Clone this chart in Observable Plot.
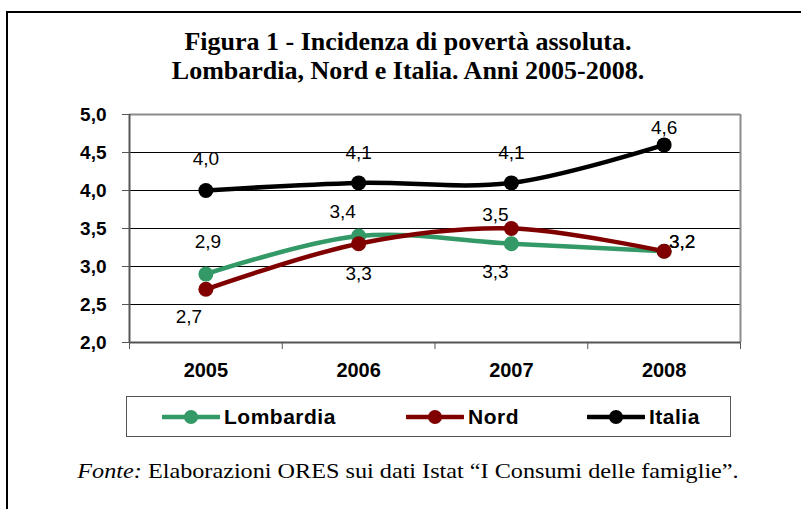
<!DOCTYPE html>
<html>
<head>
<meta charset="utf-8">
<script src="https://cdn.jsdelivr.net/npm/d3@7"></script>
<script src="https://cdn.jsdelivr.net/npm/@observablehq/plot@0.6"></script>
<style>
  html, body { margin: 0; padding: 0; background: #fff; }
  body { width: 801px; height: 509px; overflow: hidden; position: relative; }
  #frame { position: absolute; left: 6px; top: 11px; width: 900px; height: 600px; border: 2px solid #000; box-sizing: border-box; }
  #title { position: absolute; left: 0; top: 27px; width: 816px; text-align: center;
           font-family: "Liberation Serif", "Times New Roman", serif; font-weight: bold; font-size: 26px; line-height: 29px; color: #000; }
  #chart { position: absolute; left: 0; top: 100px; }
  #legend { position: absolute; left: 126px; top: 396px; width: 605px; height: 41px; border: 1px solid #555; box-sizing: border-box; }
  .item { position: absolute; top: 0; height: 39px; display: flex; align-items: center;
          font-family: "Liberation Sans", Arial, sans-serif; font-weight: bold; font-size: 21px; letter-spacing: 0.5px; color: #000; }
  .item svg { margin-right: 4px; }
  #caption { position: absolute; left: 0; top: 458px; width: 816px; text-align: center;
             font-family: "Liberation Serif", "Times New Roman", serif; font-size: 22px; color: #000;
             transform: scaleX(1.1); transform-origin: 408px 50%; }
</style>
</head>
<body>
<div id="frame"></div>
<div id="title">Figura 1 - Incidenza di povertà assoluta.<br>Lombardia, Nord e Italia. Anni 2005-2008.</div>
<div id="chart"></div>
<div id="legend"></div>
<div id="caption"><i>Fonte:</i> Elaborazioni ORES sui dati Istat “I Consumi delle famiglie”.</div>
<script>
// ---- data ----
const years = [2005, 2006, 2007, 2008];
const seriesNames = ["Lombardia", "Nord", "Italia"];
const lombardia = [2.9, 3.4, 3.3, 3.2];
const nord = [2.7, 3.3, 3.5, 3.2];
const italia = [4.0, 4.1, 4.1, 4.6];
const yTicks = [2.0, 2.5, 3.0, 3.5, 4.0, 4.5, 5.0];

// ---- styles ----
const colors = {Lombardia: "#339966", Nord: "#800000", Italia: "#000000"};
// label offsets (pixels) per series and year index
const labelOffsets = {
  Lombardia: [[2, -32], [-16, -24], [-16, 28], [18, -9]],
  Nord: [[-17, 28], [0, 30], [-16, -14], [18, -9]],
  Italia: [[0, -32], [0, -30], [0, -30], [0, -17]]
};

const valuesBySeries = {Lombardia: lombardia, Nord: nord, Italia: italia};
const rows = seriesNames.flatMap(s => years.map((yr, i) => ({
  series: s, year: yr, value: valuesBySeries[s][i],
  dx: labelOffsets[s][i][0], dy: labelOffsets[s][i][1]
})));

const fmt = v => v.toFixed(1).replace(".", ",");
const boundaries = [years[0] - 0.5, ...years.map(y => y + 0.5)];
const xDomain = [boundaries[0], boundaries[boundaries.length - 1]];
const sans = "Liberation Sans, Arial, sans-serif";

const marks = [
  Plot.ruleY(yTicks.slice(1, -1), {stroke: "#000", strokeWidth: 1}),
  Plot.ruleY([yTicks[yTicks.length - 1]], {stroke: "#8c8c8c", strokeWidth: 2}),
  Plot.ruleX([xDomain[1]], {stroke: "#8c8c8c", strokeWidth: 2}),
  Plot.ruleX([xDomain[0]], {stroke: "#555", strokeWidth: 2}),
  Plot.ruleY([yTicks[0]], {stroke: "#555", strokeWidth: 2}),
  Plot.axisY({ticks: yTicks, tickFormat: fmt, tickSize: 7, tickPadding: 16, stroke: "#555", fill: "#000", label: null,
              fontSize: 19, fontWeight: "bold", fontFamily: sans, letterSpacing: "1.2px"}),
  Plot.axisX({ticks: boundaries, tickFormat: () => "", tickSize: 7, stroke: "#555", label: null}),
  Plot.axisX({ticks: years, tickFormat: d => String(d), tickSize: 0, tickPadding: 20, fill: "#000", label: null,
              fontSize: 20, fontWeight: "bold", fontFamily: sans, letterSpacing: "0.5px"})
];
for (const s of seriesNames) {
  const d = rows.filter(r => r.series === s);
  marks.push(Plot.line(d, {x: "year", y: "value", stroke: colors[s], strokeWidth: 4.5, curve: "catmull-rom"}));
  marks.push(Plot.dot(d, {x: "year", y: "value", fill: colors[s], r: 7.5, stroke: "none"}));
}
for (const s of seriesNames) {
  for (const r of rows.filter(r => r.series === s)) {
    marks.push(Plot.text([r], {x: "year", y: "value", text: d => fmt(d.value), dx: r.dx, dy: r.dy,
      fontSize: 19, fill: "#000", fontFamily: sans, letterSpacing: "0.5px"}));
  }
}

const chart = Plot.plot({
  width: 801,
  height: 290,
  marginTop: 14,
  marginBottom: 48,
  marginLeft: 129,
  marginRight: 61,
  style: {background: "transparent", overflow: "visible"},
  x: {type: "linear", domain: xDomain, label: null},
  y: {type: "linear", domain: [yTicks[0], yTicks[yTicks.length - 1]], label: null},
  marks
});
document.getElementById("chart").appendChild(chart);

// ---- legend ----
const legend = document.getElementById("legend");
const legendLefts = [35, 279, 460];
seriesNames.forEach((s, i) => {
  const item = document.createElement("div");
  item.className = "item";
  item.style.left = legendLefts[i] + "px";
  const sw = d3.create("svg").attr("width", 58).attr("height", 16);
  sw.append("line").attr("x1", 1).attr("x2", 57).attr("y1", 8).attr("y2", 8)
    .attr("stroke", colors[s]).attr("stroke-width", 4.5).attr("stroke-linecap", "round");
  sw.append("circle").attr("cx", 29).attr("cy", 8).attr("r", 7).attr("fill", colors[s]);
  item.appendChild(sw.node());
  const t = document.createElement("span");
  t.textContent = s;
  item.appendChild(t);
  legend.appendChild(item);
});
</script>
</body>
</html>
